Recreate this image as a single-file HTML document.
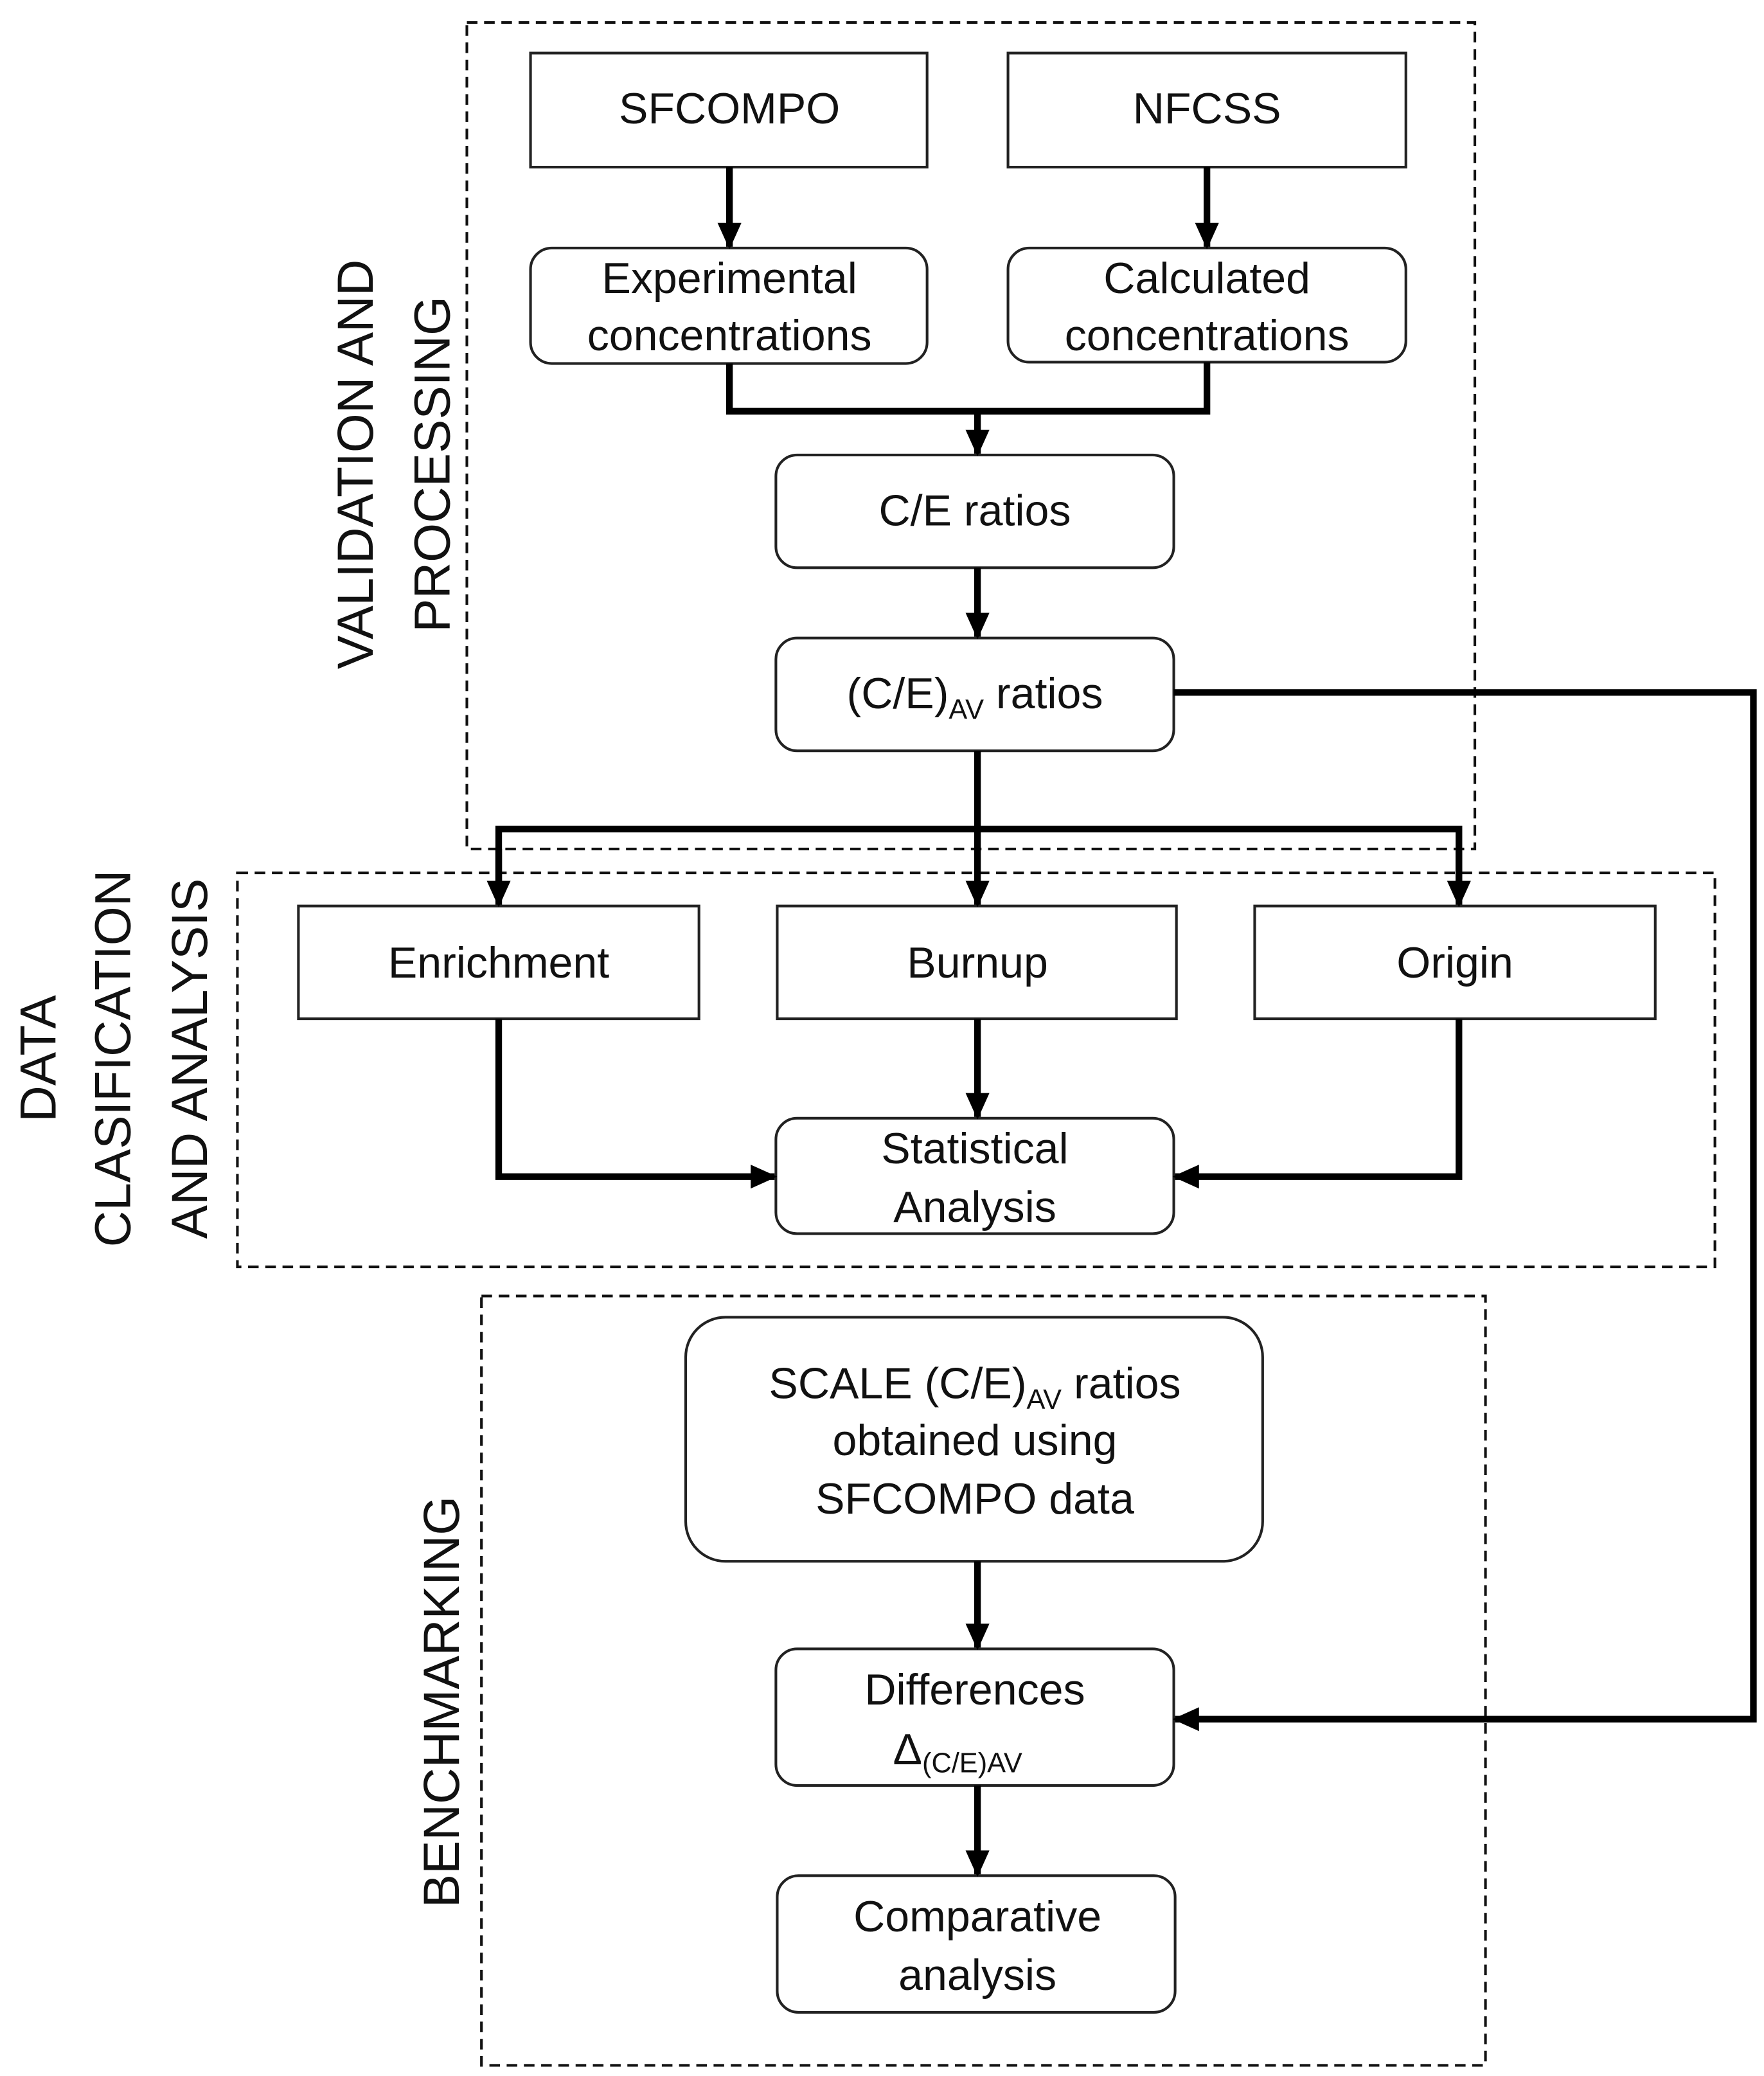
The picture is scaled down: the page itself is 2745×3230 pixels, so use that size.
<!DOCTYPE html>
<html><head><meta charset="utf-8"><style>
html,body{margin:0;padding:0;background:#fff;}
svg{display:block;}
text{font-family:"Liberation Sans","DejaVu Sans",sans-serif;font-size:33px;fill:#111;}
</style></head><body>
<svg width="2745" height="3230" viewBox="0 0 1330 1565" preserveAspectRatio="none" xmlns="http://www.w3.org/2000/svg">
<defs>
<marker id="a" markerWidth="20" markerHeight="18" refX="18" refY="9" orient="auto" markerUnits="userSpaceOnUse">
<path d="M0,0 L20,9 L0,18 z" fill="#000"/></marker>
</defs>
<rect width="1330" height="1565" fill="#fff"/>
<g fill="none" stroke="#111" stroke-width="2" stroke-dasharray="8,5">
<rect x="352" y="17" width="760" height="623"/>
<rect x="179" y="658" width="1114" height="297"/>
<rect x="363" y="977" width="757" height="580"/>
</g>
<g fill="#fff" stroke="#222" stroke-width="2">
<rect x="400" y="40" width="299" height="86"/>
<rect x="760" y="40" width="300" height="86"/>
<rect x="400" y="187" width="299" height="87" rx="16"/>
<rect x="760" y="187" width="300" height="86" rx="16"/>
<rect x="585" y="343" width="300" height="85" rx="16"/>
<rect x="585" y="481" width="300" height="85" rx="16"/>
<rect x="225" y="683" width="302" height="85"/>
<rect x="586" y="683" width="301" height="85"/>
<rect x="946" y="683" width="302" height="85"/>
<rect x="585" y="843" width="300" height="87" rx="16"/>
<rect x="517" y="993" width="435" height="184" rx="30"/>
<rect x="585" y="1243" width="300" height="103" rx="16"/>
<rect x="586" y="1414" width="300" height="103" rx="16"/>
</g>
<g fill="none" stroke="#000" stroke-width="5">
<path d="M550,126 V186" marker-end="url(#a)"/>
<path d="M910,126 V186" marker-end="url(#a)"/>
<path d="M550,274 V310 H910 V273"/>
<path d="M737,310 V342" marker-end="url(#a)"/>
<path d="M737,428 V480" marker-end="url(#a)"/>
<path d="M737,566 V682" marker-end="url(#a)"/>
<path d="M376,676 V625 H1100 V676" />
<path d="M376,640 V682" marker-end="url(#a)"/>
<path d="M1100,640 V682" marker-end="url(#a)"/>
<path d="M376,768 V887 H584" marker-end="url(#a)"/>
<path d="M1100,768 V887 H886" marker-end="url(#a)"/>
<path d="M737,768 V842" marker-end="url(#a)"/>
<path d="M885,522 H1322 V1296 H886" marker-end="url(#a)"/>
<path d="M737,1177 V1242" marker-end="url(#a)"/>
<path d="M737,1346 V1413" marker-end="url(#a)"/>
</g>
<g text-anchor="middle">
<text x="550" y="93">SFCOMPO</text>
<text x="910" y="93">NFCSS</text>
<text x="550" y="221">Experimental</text>
<text x="550" y="264">concentrations</text>
<text x="910" y="221">Calculated</text>
<text x="910" y="264">concentrations</text>
<text x="735" y="396">C/E ratios</text>
<text x="735" y="534">(C/E)<tspan font-size="21" dy="8">AV</tspan><tspan dy="-8"> ratios</tspan></text>
<text x="376" y="737">Enrichment</text>
<text x="737" y="737">Burnup</text>
<text x="1097" y="737">Origin</text>
<text x="735" y="877">Statistical</text>
<text x="735" y="921">Analysis</text>
<text x="735" y="1054">SCALE (C/E)<tspan font-size="21" dy="8">AV</tspan><tspan dy="-8"> ratios</tspan></text>
<text x="735" y="1097">obtained using</text>
<text x="735" y="1141">SFCOMPO data</text>
<text x="735" y="1285">Differences</text>
<text x="722" y="1330">Δ<tspan font-size="21" dy="6">(C/E)AV</tspan></text>
<text x="737" y="1456">Comparative</text>
<text x="737" y="1500">analysis</text>
</g>
<g text-anchor="middle">
<text transform="translate(281,350) rotate(-90)" style="font-size:38px">VALIDATION  AND</text>
<text transform="translate(339,350) rotate(-90)" style="font-size:38px">PROCESSING</text>
<text transform="translate(42,798) rotate(-90)" style="font-size:38px">DATA</text>
<text transform="translate(98,798) rotate(-90)" style="font-size:38px">CLASIFICATION</text>
<text transform="translate(156,798) rotate(-90)" style="font-size:38px">AND ANALYSIS</text>
<text transform="translate(346,1283) rotate(-90)" style="font-size:38px">BENCHMARKING</text>
</g>
</svg>
</body></html>
